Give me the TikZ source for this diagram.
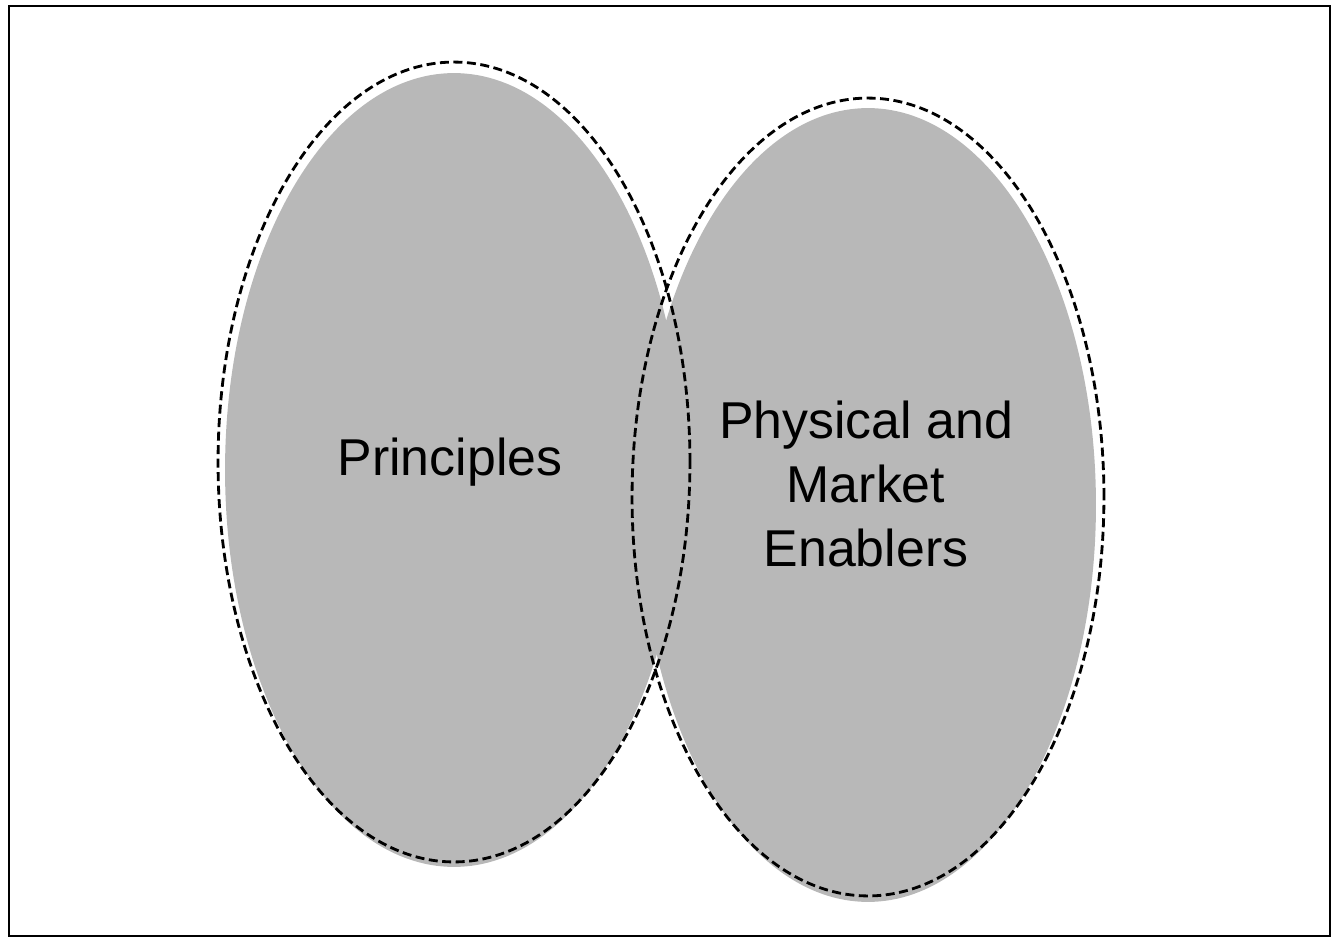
\documentclass[tikz,border=0pt]{standalone}
\usepackage{fontspec}
\setmainfont{Liberation Sans}
\usetikzlibrary{calc}
\definecolor{marble}{gray}{0.72}

\begin{document}
\begin{tikzpicture}[x=0.02cm,y=-0.02cm,
  setfill/.style={fill=marble, draw=none},
  setline/.style={draw=black, line width=1.6pt, dash pattern=on 0.18cm off 0.09cm},
  setlabel/.style={font=\fontsize{29.5}{36.5}\selectfont, align=center, text=black}]
  \useasboundingbox (0,0) rectangle (1332,946);
  \draw[line width=1.1pt] (9,6) rectangle (1330,936);
  % the two sets
  \coordinate (left) at (454,462);
  \coordinate (right) at (868,497);
  \fill[setfill] ($(left)+(0,8)$) ellipse [x radius=4.58cm, y radius=7.94cm];
  \fill[setfill] ($(right)+(0,8)$) ellipse [x radius=4.56cm, y radius=7.94cm];
  \draw[setline] (left) ellipse [x radius=4.72cm, y radius=8cm];
  \draw[setline] (right) ellipse [x radius=4.72cm, y radius=7.98cm];
  % labels
  \node[setlabel] (principles) at (450,462) {Principles};
  \node[setlabel] (enablers) at (866,484) {Physical and\\Market\\Enablers};
\end{tikzpicture}
\end{document}
